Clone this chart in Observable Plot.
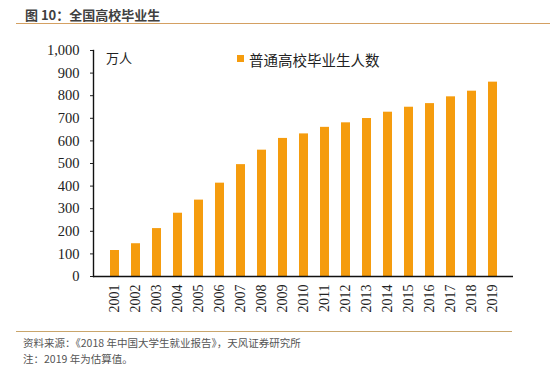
<!DOCTYPE html>
<html><head><meta charset="utf-8">
<script src="https://cdn.jsdelivr.net/npm/d3@7"></script>
<script src="https://cdn.jsdelivr.net/npm/@observablehq/plot@0.6"></script>
<style>
body{margin:0;background:#fff;}
#wrap{position:relative;width:550px;height:372px;overflow:hidden;font-family:"Noto Sans CJK SC",sans-serif;}
.abs{position:absolute;white-space:nowrap;}
#wrap svg, #wrap svg g, #wrap svg text{font-family:"Times New Roman","Liberation Serif",serif !important;}
</style></head>
<body><div id="wrap"></div>
<script>
const years = ["2001","2002","2003","2004","2005","2006","2007","2008","2009","2010","2011","2012","2013","2014","2015","2016","2017","2018","2019"];
const graduates = [115,145,212,280,338,413,495,559,611,631,660,680,699,727,749,765,795,820,860];
const yTicks = [0,100,200,300,400,500,600,700,800,900,1000];
const seriesName = "普通高校毕业生人数";
const unitLabel = "万人";
const title = "图 10：全国高校毕业生";
const source = "资料来源：《2018 年中国大学生就业报告》，天风证券研究所";
const note = "注：2019 年为估算值。";

const data = years.map((y,i)=>({year:y, value:graduates[i]}));
const barColor = "#f59c0e";

const chart = Plot.plot({
  width:550, height:372,
  marginLeft:93, marginRight:37, marginTop:50, marginBottom:96,
  style:{fontSize:"14px", color:"#222", background:"transparent", fontFamily:"Times New Roman, Liberation Serif, serif"},
  x:{domain:years, paddingInner:0.58, paddingOuter:0.38},
  y:{domain:[0,1000]},
  marks:[
    Plot.barY(data,{x:"year", y:"value", fill:barColor}),
    Plot.axisY({ticks:yTicks, tickSize:3, tickPadding:11, tickFormat:d3.format(","), label:null, fontSize:14.5}),
    Plot.axisX({tickSize:0, tickRotate:-90, tickPadding:8, label:null, fontSize:14}),
    Plot.frame({anchor:"left", stroke:"#111", strokeWidth:1.4}),
    Plot.ruleY([0],{stroke:"#111", strokeWidth:1.4})
  ]
});
const wrap = document.getElementById("wrap");
chart.style.position="absolute"; chart.style.left="0"; chart.style.top="0";
chart.querySelectorAll("text").forEach(t=>t.setAttribute("font-family","Liberation Serif"));
wrap.appendChild(chart);

function add(html, css){const d=document.createElement("div");d.className="abs";d.innerHTML=html;Object.assign(d.style,css);wrap.appendChild(d);return d;}
add(title,{left:"25px",top:"5px",fontSize:"13px",fontWeight:"bold",color:"#404040"});
add("",{left:"16px",top:"22.5px",width:"534px",height:"1.6px",background:"#d4a062"});
add(unitLabel,{left:"106px",top:"48px",fontSize:"13px",color:"#222"});
add("",{left:"237px",top:"55px",width:"7px",height:"7px",background:barColor});
add(seriesName,{left:"249px",top:"49px",fontSize:"14.5px",color:"#222"});
add("",{left:"16px",top:"330.5px",width:"496px",height:"1.4px",background:"#c9a56b"});
add(source,{left:"23px",top:"335px",fontSize:"10.5px",color:"#555"});
add(note,{left:"23px",top:"351px",fontSize:"10.5px",color:"#555"});
</script></body></html>
